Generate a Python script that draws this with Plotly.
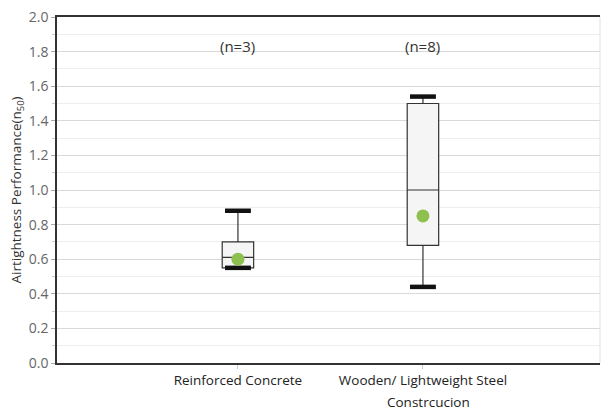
import plotly.graph_objects as go

# Summary statistics per construction type
categories = ["Reinforced Concrete", "Wooden/ Lightweight Steel"]
category_notes = ["", "Constrcucion"]
positions = [0, 1]
q1 = [0.55, 0.68]
median = [0.61, 1.00]
q3 = [0.70, 1.50]
lower_whisker = [0.55, 0.44]
upper_whisker = [0.88, 1.54]
means = [0.60, 0.85]
sample_sizes = [3, 8]

y_ticks = [0.0, 0.2, 0.4, 0.6, 0.8, 1.0, 1.2, 1.4, 1.6, 1.8, 2.0]

BOX_WIDTH = 0.17
CAP_HALF = 0.07
FONT = "Open Sans"

fig = go.Figure()

fig.add_trace(go.Box(
    x=positions, q1=q1, median=median, q3=q3,
    lowerfence=lower_whisker, upperfence=upper_whisker,
    width=BOX_WIDTH, whiskerwidth=0,
    fillcolor="#f5f5f5", line=dict(color="#333333", width=1.2),
    boxpoints=False, showlegend=False, hoverinfo="skip",
))

# Heavy whisker end caps
cap_x, cap_y = [], []
for p, lo, hi in zip(positions, lower_whisker, upper_whisker):
    cap_x += [p - CAP_HALF, p + CAP_HALF, None, p - CAP_HALF, p + CAP_HALF, None]
    cap_y += [hi, hi, None, lo, lo, None]
fig.add_trace(go.Scatter(
    x=cap_x, y=cap_y, mode="lines",
    line=dict(color="#111111", width=4.5),
    showlegend=False, hoverinfo="skip",
))

# Mean markers
fig.add_trace(go.Scatter(
    x=positions, y=means, mode="markers",
    marker=dict(color="#8dc04f", size=13, line=dict(width=0)),
    showlegend=False,
))

# Sample size labels
for p, n in zip(positions, sample_sizes):
    fig.add_annotation(x=p, y=1.83, text=f"(n={n})", showarrow=False,
                       font=dict(family=FONT, size=15, color="#333333"))

# Second line of the category label
for p, note in zip(positions, category_notes):
    if note:
        fig.add_annotation(x=p + 0.03, y=0, yref="paper", yshift=-50,
                           text=note, showarrow=False,
                           font=dict(family=FONT, size=13.5, color="#222222"))

# Faint right-hand frame edge
fig.add_shape(type="line", xref="paper", yref="paper", x0=1, x1=1, y0=0, y1=1,
              line=dict(color="#e0e0e0", width=1))

fig.update_layout(
    width=604, height=412,
    margin=dict(l=57, r=4, t=17, b=49),
    paper_bgcolor="white", plot_bgcolor="white",
    font=dict(family=FONT, size=13, color="#555555"),
    xaxis=dict(
        range=[-0.978, 1.957], tickvals=positions,
        ticktext=[c for c in categories],
        tickfont=dict(family=FONT, size=13.5, color="#222222"),
        showgrid=False, zeroline=False,
        showline=True, mirror=True, linecolor="#333333", linewidth=1.5,
        ticks="outside", ticklen=4, tickcolor="#cccccc",
    ),
    yaxis=dict(
        range=[0, 2.0], tickvals=y_ticks,
        ticktext=[f"{v:.1f}" for v in y_ticks],
        tickfont=dict(family=FONT, size=14, color="#666666"),
        showgrid=True, gridcolor="#d9d9d9", gridwidth=1,
        zeroline=False,
        showline=True, linecolor="#333333", linewidth=1.5,
        ticks="outside", ticklen=4, tickcolor="#aaaaaa",
        minor=dict(dtick=0.1, tick0=0, showgrid=True, gridcolor="#eeeeee",
                   ticks="outside", ticklen=3, tickcolor="#cccccc"),
        title=dict(text="Airtightness Performance(n<sub>50</sub>)",
                   font=dict(family=FONT, size=13.5, color="#333333"),
                   standoff=4),
    ),
)

fig.write_html("out.html")
